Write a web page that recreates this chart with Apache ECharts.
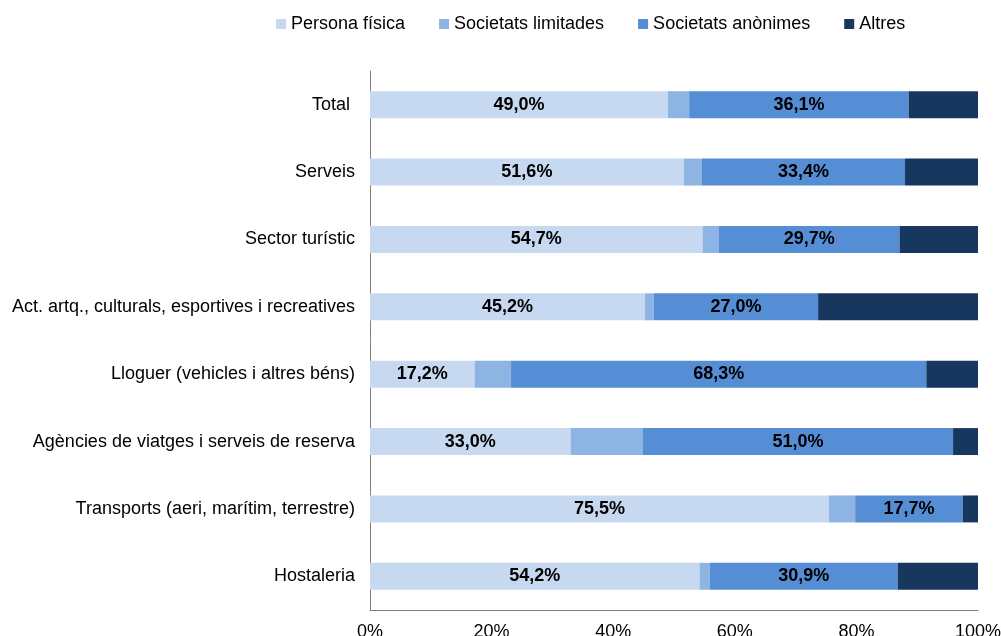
<!DOCTYPE html>
<html><head><meta charset="utf-8">
<script src="https://cdn.jsdelivr.net/npm/echarts@6/dist/echarts.min.js"></script>
<style>html,body{margin:0;padding:0;background:#fff}#c{width:1001px;height:636px}</style>
</head><body><div id="c"></div>
<script>
const categories = ["Total ","Serveis","Sector turístic","Act. artq., culturals, esportives i recreatives","Lloguer (vehicles i altres béns)","Agències de viatges i serveis de reserva","Transports (aeri, marítim, terrestre)","Hostaleria"];
const personaFisica = [49.0,51.6,54.7,45.2,17.2,33.0,75.5,54.2];
const societatsLimitades = [3.5,3.0,2.7,1.5,6.0,11.9,4.3,1.7];
const societatsAnonimes = [36.1,33.4,29.7,27.0,68.3,51.0,17.7,30.9];
const altres = [11.4,12.0,12.9,26.3,8.5,4.1,2.5,13.2];
const xTicks = ["0%","20%","40%","60%","80%","100%"];

const font = "Liberation Sans, Arial, sans-serif";
const chart = echarts.init(document.getElementById('c'));
const lbl = {show:true,position:'inside',color:'#000',fontWeight:'bold',fontSize:18,fontFamily:font,
  formatter:p=>p.value.toFixed(1).replace('.',',')+'%'};
function ser(name,data,color,label){
  return {name,type:'bar',stack:'a',data,barWidth:'40%',itemStyle:{color},
    label:label?lbl:{show:false},emphasis:{disabled:true}};
}
chart.setOption({
  animation:false,
  legend:{top:10,left:271,itemWidth:10,itemHeight:10,itemGap:34,icon:'rect',
    textStyle:{fontSize:18,fontFamily:font,color:'#000'},data:["Persona física","Societats limitades","Societats anònimes","Altres"]},
  grid:{left:370,right:23,top:71,bottom:26,containLabel:false,outerBoundsMode:'none'},
  xAxis:{type:'value',min:0,max:100,interval:20,
    axisLine:{show:true,lineStyle:{color:'#808080'}},axisTick:{show:false},splitLine:{show:false},
    axisLabel:{fontSize:18,fontFamily:font,color:'#000',margin:13,formatter:v=>xTicks[v/20]}},
  yAxis:{type:'category',inverse:true,data:categories,
    axisLine:{show:true,lineStyle:{color:'#808080'}},axisTick:{show:false},
    axisLabel:{fontSize:18,fontFamily:font,color:'#000',margin:15,
      formatter:v=>v.replace(/ $/,'\u00a0')}},
  series:[
    ser("Persona física",personaFisica,'#C6D9F1',true),
    ser("Societats limitades",societatsLimitades,'#8DB4E2',false),
    ser("Societats anònimes",societatsAnonimes,'#558ED5',true),
    ser("Altres",altres,'#17375E',false)
  ]
});
</script></body></html>
